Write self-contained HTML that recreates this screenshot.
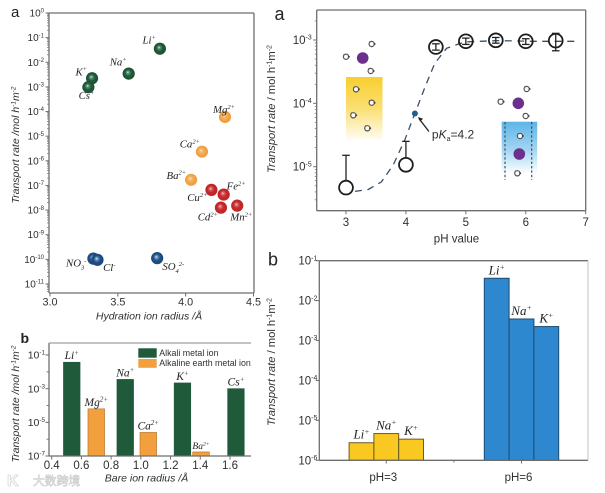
<!DOCTYPE html>
<html lang="en">
<head>
<meta charset="utf-8">
<title>Ion transport rate charts</title>
<style>
html,body{margin:0;padding:0;background:#fff;width:605px;height:493px;overflow:hidden}
svg{display:block;filter:blur(.3px)}
text{font-family:"Liberation Sans","Noto Sans CJK SC",sans-serif;fill:#2f2f2f}
.ion-label{font-family:"Liberation Serif",serif;font-style:italic;fill:#222}
</style>
</head>
<body>
<svg id="figure" xmlns="http://www.w3.org/2000/svg" width="605" height="493" viewBox="0 0 605 493">
<defs>
<radialGradient id="ball-green" cx=".5" cy=".5" r=".55" fx=".42" fy=".38"><stop offset="0" stop-color="#e6f3ea"/><stop offset=".18" stop-color="#5f9477"/><stop offset=".5" stop-color="#1f5a3a"/><stop offset="1" stop-color="#1d4f33"/></radialGradient>
<radialGradient id="ball-orange" cx=".5" cy=".5" r=".55" fx=".42" fy=".38"><stop offset="0" stop-color="#fff0da"/><stop offset=".22" stop-color="#f6b970"/><stop offset=".7" stop-color="#ee9f3e"/><stop offset="1" stop-color="#eaa554"/></radialGradient>
<radialGradient id="ball-red" cx=".5" cy=".5" r=".55" fx=".42" fy=".38"><stop offset="0" stop-color="#fbdede"/><stop offset=".18" stop-color="#de6a68"/><stop offset=".5" stop-color="#c9272b"/><stop offset="1" stop-color="#b92428"/></radialGradient>
<radialGradient id="ball-blue" cx=".5" cy=".5" r=".55" fx=".42" fy=".38"><stop offset="0" stop-color="#dcebf7"/><stop offset=".18" stop-color="#6f9cc4"/><stop offset=".5" stop-color="#1f4f86"/><stop offset="1" stop-color="#1d4674"/></radialGradient>
<linearGradient id="fill-yellow" x1="0" y1="0" x2="0" y2="1"><stop offset="0" stop-color="#f8cf2e"/><stop offset=".5" stop-color="#fbdf74"/><stop offset="1" stop-color="#fffdf4"/></linearGradient>
<linearGradient id="fill-blue" x1="0" y1="0" x2="0" y2="1"><stop offset="0" stop-color="#5db4e6"/><stop offset=".55" stop-color="#a5d6f2"/><stop offset="1" stop-color="#ffffff"/></linearGradient>
<g id="small-ion"><circle r="2.6" fill="#fff" stroke="#555" stroke-width="1.2"/><circle cx="2.9" cy="0" r="1" fill="#444"/><circle cx="-1.8" cy="-2.2" r=".8" fill="#666"/></g>
</defs>
<rect width="605" height="493" fill="#fff"/>

<g>
  <rect x="346" y="77" width="36.5" height="63" fill="url(#fill-yellow)"/>
  <circle cx="362.7" cy="58" r="5.8" fill="#6b2f8e"/>
  <use href="#small-ion" x="371.7" y="44"/>
  <use href="#small-ion" x="346" y="56.7"/>
  <use href="#small-ion" x="370.7" y="71"/>
  <use href="#small-ion" x="356" y="89.3"/>
  <use href="#small-ion" x="371.7" y="102.7"/>
  <use href="#small-ion" x="353.3" y="115.3"/>
  <use href="#small-ion" x="367.3" y="128.3"/>
</g>
<g>
  <rect x="501.7" y="121.7" width="35.5" height="52" fill="url(#fill-blue)"/>
  <line x1="505" y1="122" x2="505" y2="180" stroke="#33465c" stroke-width="1.1" stroke-dasharray="2.4 2"/>
  <line x1="531.7" y1="122" x2="531.7" y2="180" stroke="#33465c" stroke-width="1.1" stroke-dasharray="2.4 2"/>
  <circle cx="518.3" cy="103.3" r="5.8" fill="#6b2f8e"/>
  <circle cx="519.3" cy="154" r="5.8" fill="#6b2f8e"/>
  <use href="#small-ion" x="526.7" y="89"/>
  <use href="#small-ion" x="500.7" y="101.7"/>
  <use href="#small-ion" x="525.7" y="116"/>
  <use href="#small-ion" x="520" y="136"/>
  <use href="#small-ion" x="517.3" y="173.3"/>
</g>

<text x="11" y="17" font-size="15" style="fill:#222">a</text>
<text x="20.5" y="343" font-size="14" font-weight="bold" style="fill:#222">b</text>
<text x="274.5" y="20" font-size="18" style="fill:#222">a</text>
<text x="268" y="265.5" font-size="18" style="fill:#222">b</text>

<text x="149" y="319.5" font-size="10.5" font-style="italic" text-anchor="middle">Hydration ion radius /Å</text>
<text transform="translate(19,145) rotate(-90)" font-size="10.5" font-style="italic" text-anchor="middle">Transport rate /mol h<tspan font-size="6.5" dy="-3.5">-1</tspan><tspan dy="3.5">m</tspan><tspan font-size="6.5" dy="-3.5">-2</tspan></text>
<text x="146.5" y="481.5" font-size="10.5" font-style="italic" text-anchor="middle">Bare ion radius /Å</text>
<text transform="translate(19,404) rotate(-90)" font-size="10.5" font-style="italic" text-anchor="middle">Transport rate /mol h<tspan font-size="6.5" dy="-3.5">-1</tspan><tspan dy="3.5">m</tspan><tspan font-size="6.5" dy="-3.5">-2</tspan></text>
<text x="456.5" y="242.5" font-size="11.5" text-anchor="middle">pH value</text>
<text transform="translate(275,109) rotate(-90)" font-size="11.2" text-anchor="middle"><tspan font-style="italic">Transport rate</tspan> / mol h<tspan font-size="7" dy="-3.5">-1</tspan><tspan dy="3.5">m</tspan><tspan font-size="7" dy="-3.5">-2</tspan></text>
<text transform="translate(275,362) rotate(-90)" font-size="11.2" text-anchor="middle"><tspan font-style="italic">Transport rate</tspan> / mol h<tspan font-size="7" dy="-3.5">-1</tspan><tspan dy="3.5">m</tspan><tspan font-size="7" dy="-3.5">-2</tspan></text>

<g>
  <rect x="138.3" y="348.3" width="18.4" height="9.4" fill="#1f5a3a"/>
  <text x="159.3" y="356" font-size="8.8">Alkali metal ion</text>
  <rect x="138.3" y="359" width="18.4" height="8.8" fill="#f2a03d"/>
  <text x="159.3" y="365.8" font-size="8.8">Alkaline earth metal ion</text>
</g>

<g opacity=".85">
  <text x="7" y="486" font-size="16" font-weight="bold" style="fill:#fff;stroke:#cfcfcf;stroke-width:.8">K</text>
  <text x="33" y="485" font-size="11.8" style="fill:#fff;stroke:#c8c8c8;stroke-width:.7">大数跨境</text>
</g>
</svg>

<script>
// Scatter: hydration radius vs transport rate (log10)
const scatterLabels = ['Li^{+}','Na^{+}','K^{+}','Cs^{+}','Mg^{2+}','Ca^{2+}','Ba^{2+}','Cu^{2+}','Fe^{2+}','Cd^{2+}','Mn^{2+}','NO_{3}^{-}','Cl^{-}','SO_{4}^{2-}'];
const scatterGroups = ['alkali','alkali','alkali','alkali','earth','earth','earth','metal','metal','metal','metal','anion','anion','anion'];
const scatterRadius = [3.81,3.58,3.31,3.283,4.29,4.12,4.04,4.19,4.28,4.26,4.38,3.32,3.35,3.79];
const scatterLogRate = [-1.45,-2.46,-2.65,-3.01,-4.22,-5.63,-6.77,-7.18,-7.37,-7.9,-7.82,-9.97,-10.02,-9.95];
const scatterXTicks = [3.0,3.5,4.0,4.5];
const scatterYTicks = [0,-1,-2,-3,-4,-5,-6,-7,-8,-9,-10,-11];

// Bars: bare ion radius vs transport rate (log10)
const radiusBarLabels = ['Li^{+}','Mg^{2+}','Na^{+}','Ca^{2+}','K^{+}','Ba^{2+}','Cs^{+}'];
const radiusBarGroups = ['alkali','earth','alkali','earth','alkali','earth','alkali'];
const radiusBarRadius = [0.535,0.70,0.895,1.05,1.28,1.405,1.64];
const radiusBarLogRate = [-1.43,-4.2,-2.45,-5.6,-2.66,-6.76,-3.0];
const radiusXTicks = [0.4,0.6,0.8,1.0,1.2,1.4,1.6];
const radiusYTicks = [-1,-3,-5,-7];

// pH curve: measured points, error bars, dashed fit
const phValues = [3,4,4.5,5,5.5,6,6.5];
const phLogRate = [-5.33,-4.97,-3.11,-3.02,-3.005,-3.02,-3.01];
const phLogHigh = [-4.82,-4.6,-3.06,-2.97,-2.96,-2.98,-2.895];
const phLogLow = [-5.33,-4.97,-3.16,-3.07,-3.05,-3.07,-3.17];
const fitPh = [3.15,3.37,3.59,3.79,3.98,4.15,4.32,4.48,4.68,4.98,5.54,6.09,6.84];
const fitLogRate = [-5.39,-5.36,-5.24,-4.97,-4.58,-4.16,-3.74,-3.37,-3.13,-3.03,-3.01,-3.02,-3.02];
const pKaPh = [4.15];
const pKaLogRate = [-4.16];
const phXTicks = [3,4,5,6,7];
const phYTicks = [-3,-4,-5];

// Bars: transport rate by pH group
const phGroups = ['pH=3','pH=6'];
const phBarIons = ['Li^{+}','Na^{+}','K^{+}'];
const phBarLogRate3 = [-5.56,-5.33,-5.47];
const phBarLogRate6 = [-1.44,-2.46,-2.65];
const phBarYTicks = [-1,-2,-3,-4,-5,-6];

const NS = 'http://www.w3.org/2000/svg';
const root = document.getElementById('figure');
const AXIS = '#6e6e6e';
const BALL = {alkali:'url(#ball-green)', earth:'url(#ball-orange)', metal:'url(#ball-red)', anion:'url(#ball-blue)'};

function linear(d0, d1, r0, r1) { return v => r0 + (v - d0) * (r1 - r0) / (d1 - d0); }

function make(tag, attrs, parent) {
  const node = document.createElementNS(NS, tag);
  for (const k in attrs) node.setAttribute(k, attrs[k]);
  parent.appendChild(node);
  return node;
}

// Writes "Li^{+}" / "SO_{4}^{2-}" as real text with raised and lowered tspans.
function richText(node, str, size) {
  const parts = str.match(/\^\{[^}]*\}|_\{[^}]*\}|[^\^_]+/g);
  let shift = 0;
  parts.forEach(p => {
    const span = make('tspan', {}, node);
    let want = 0;
    if (p[0] === '^') { want = -size * 0.38; span.setAttribute('font-size', size * 0.6); span.textContent = p.slice(2, -1); }
    else if (p[0] === '_') { want = size * 0.25; span.setAttribute('font-size', size * 0.6); span.textContent = p.slice(2, -1); }
    else { span.textContent = p; }
    span.setAttribute('dy', want - shift);
    shift = want;
  });
}

function spine(parent, x1, y1, x2, y2, name, color) {
  const s = make('line', {x1, y1, x2, y2, stroke: color || AXIS, 'stroke-width': 1.3}, parent);
  
  
}

function logYAxis(parent, ticks, y, axisX, fontSize, minorMode, labelGap) {
  ticks.forEach(t => {
    const tick = make('line', {x1: axisX - 3.5, x2: axisX, y1: y(t), y2: y(t), stroke: AXIS, 'stroke-width': 1}, parent);
    
    
    const label = make('text', {x: axisX - labelGap, y: y(t) + fontSize * 0.35, 'font-size': fontSize, 'text-anchor': 'end'}, parent);
    
    
    richText(label, '10^{' + t + '}', fontSize);
  });
  if (minorMode === 'none') return;
  const hi = Math.max(...ticks), lo = Math.min(...ticks);
  if (minorMode === 'alternate') {
    for (let d = lo + 1; d < hi; d += 2) {
      const m = make('line', {x1: axisX - 2.5, x2: axisX, y1: y(d), y2: y(d), stroke: AXIS, 'stroke-width': .9}, parent);
      
      
    }
    return;
  }
  const [top, bottom] = y.range;
  for (let d = lo - 2; d <= hi + 1; d++) {
    for (let k = 2; k < 10; k++) {
      const py = y(d + Math.log10(k));
      if (py < top || py > bottom) continue;
      const m = make('line', {x1: axisX - 2, x2: axisX, y1: py, y2: py, stroke: AXIS, 'stroke-width': .7}, parent);
      
      
    }
  }
}

function xAxis(parent, ticks, x, axisY, baseline, fontSize, digits) {
  ticks.forEach(t => {
    const tick = make('line', {x1: x(t), x2: x(t), y1: axisY, y2: axisY + 3.5, stroke: AXIS, 'stroke-width': 1}, parent);
    
    
    const label = make('text', {x: x(t), y: baseline, 'font-size': fontSize, 'text-anchor': 'middle'}, parent);
    
    
    label.textContent = t.toFixed(digits);
  });
}

function ionLabel(parent, str, px, py, size, anchor) {
  const label = make('text', {x: px, y: py, 'font-size': size, 'text-anchor': anchor, class: 'ion-label'}, parent);
  
  
  richText(label, str, size);
}

/* ---------- scatter, top left ---------- */
function drawScatter() {
  const g = make('g', {}, root);
  
  
  const x = linear(3, 4.5, 50, 253.5);
  const y = linear(0, -11, 13, 284);
  y.range = [13, 293];
  spine(g, 49, 13, 49, 293, 'y-axis-line');
  spine(g, 49, 293, 254, 293, 'x-axis-line');
  spine(g, 49, 13, 254, 13, 'top-border');
  spine(g, 254, 13, 254, 293, 'right-border');
  logYAxis(g, scatterYTicks, y, 49, 10, 'full', 5);
  xAxis(g, scatterXTicks, x, 293, 305.7, 10.8, 1);
  const offsets = [[-4,-5],[-2,-8],[-5,-3],[6,12],[10,-4],[-2,-4],[-5,-1],[-4,11],[22,-5],[-3,13],[15,15],[-7,8],[18,11],[27,12]];
  scatterRadius.forEach((r, i) => {
    const dot = make('circle', {cx: x(r), cy: y(scatterLogRate[i]), r: 6.1, fill: BALL[scatterGroups[i]]}, g);
    
    
    ionLabel(g, scatterLabels[i], x(r) + offsets[i][0], y(scatterLogRate[i]) + offsets[i][1], 10.8, 'end');
  });
}

/* ---------- bars, bottom left ---------- */
function drawRadiusBars() {
  const g = make('g', {}, root);
  
  
  const x = linear(0.4, 1.6, 51.7, 230);
  const y = linear(-1, -7, 355, 456);
  y.range = [343, 456];
  radiusBarRadius.forEach((r, i) => {
    const top = y(radiusBarLogRate[i]);
    const bar = make('rect', {x: x(r) - 8.3, y: top, width: 16.6, height: 456 - top,
      fill: radiusBarGroups[i] === 'alkali' ? '#1f5a3a' : '#f2a03d',
      stroke: radiusBarGroups[i] === 'alkali' ? '#1f5a3a' : '#a9702c', 'stroke-width': .6}, g);
    
    
    ionLabel(g, radiusBarLabels[i], x(r), top - 3, radiusBarLabels[i].startsWith('Ba') ? 9.5 : 11.5, 'middle');
  });
  spine(g, 49, 343, 49, 456, 'y-axis-line');
  spine(g, 49, 456, 251, 456, 'x-axis-line');
  spine(g, 49, 343, 251, 343, 'top-border', '#a0a0a0');
  logYAxis(g, radiusYTicks, y, 49, 10.5, 'alternate', 4);
  xAxis(g, radiusXTicks, x, 456, 469, 11.5, 1);
}

/* ---------- pH curve, top right ---------- */
function drawPhCurve() {
  const g = make('g', {}, root);
  
  
  const x = linear(3, 7, 346, 585.7);
  const y = linear(-3, -5, 40, 166.7);
  y.range = [10, 210.7];
  spine(g, 316.7, 10, 316.7, 210.7, 'y-axis-line');
  spine(g, 316.7, 210.7, 585.7, 210.7, 'x-axis-line');
  spine(g, 316.7, 10, 585.7, 10, 'top-border');
  spine(g, 585.7, 10, 585.7, 210.7, 'right-border');
  logYAxis(g, phYTicks, y, 316.7, 11.5, 'full', 5);
  xAxis(g, phXTicks, x, 210.7, 226, 11.5, 0);
  const pts = fitPh.map((p, i) => x(p).toFixed(1) + ',' + y(fitLogRate[i]).toFixed(1)).join(' ');
  const fit = make('polyline', {points: pts, fill: 'none', stroke: '#3b4f66', 'stroke-width': 1.3, 'stroke-dasharray': '7 5.5', 'stroke-linejoin': 'round'}, g);
  
  
  phValues.forEach((p, i) => {
    const px = x(p);
    const err = make('line', {x1: px, x2: px, y1: y(phLogHigh[i]), y2: y(phLogLow[i]), stroke: '#222', 'stroke-width': 1.3}, g);
    
    
    const capTop = make('line', {x1: px - 3.8, x2: px + 3.8, y1: y(phLogHigh[i]), y2: y(phLogHigh[i]), stroke: '#222', 'stroke-width': 1.3}, g);
    
    
    const capLow = make('line', {x1: px - 3.8, x2: px + 3.8, y1: y(phLogLow[i]), y2: y(phLogLow[i]), stroke: '#222', 'stroke-width': 1.3}, g);
    
    
    const dot = make('circle', {cx: px, cy: y(phLogRate[i]), r: 6.9, fill: i < 2 ? '#fff' : 'none', stroke: '#1d1d1d', 'stroke-width': 1.8}, g);
    
    
  });
  pKaPh.forEach((p, i) => {
    const mark = make('circle', {cx: x(p), cy: y(pKaLogRate[i]), r: 3, fill: '#1f5e93'}, g);
    
    
    const arrow = make('line', {x1: x(p) + 14, y1: y(pKaLogRate[i]) + 18, x2: x(p) + 4, y2: y(pKaLogRate[i]) + 5, stroke: '#222', 'stroke-width': 1.3}, g);
    
    
    const ax = x(p) + 3, ay = y(pKaLogRate[i]) + 3.5;
    const head = make('path', {d: `M${ax} ${ay}l5.2 1.8l-3 2.6z`, fill: '#222'}, g);
    
    
    const label = make('text', {x: x(p) + 17, y: y(pKaLogRate[i]) + 25, 'font-size': 12}, g);
    
    
    label.innerHTML = 'p<tspan font-style="italic">K</tspan><tspan font-size="7" dy="2.5">a</tspan><tspan dy="-2.5">=4.2</tspan>';
  });
}

/* ---------- bars, bottom right ---------- */
function drawPhBars() {
  const g = make('g', {}, root);
  
  
  const y = linear(-1, -6, 260.7, 460.3);
  y.range = [260.7, 460.3];
  const group = linear(0, 1, 386.3, 521.5);
  const barW = 24.8;
  const series = [phBarLogRate3, phBarLogRate6];
  const styles = [['#f9c921', '#6b5a20'], ['#2e88cf', '#1f4a6e']];
  series.forEach((vals, gi) => {
    vals.forEach((v, i) => {
      const left = group(gi) + (i - 1.5) * barW;
      const top = y(v);
      const bar = make('rect', {x: left, y: top, width: barW, height: 460.3 - top, fill: styles[gi][0], stroke: styles[gi][1], 'stroke-width': 1}, g);
      
      
      ionLabel(g, phBarIons[i], left + barW / 2, top - 4, 13, 'middle');
    });
    const tick = make('line', {x1: group(gi), x2: group(gi), y1: 460.3, y2: 463.5, stroke: AXIS, 'stroke-width': 1}, g);
    
    
    const label = make('text', {x: group(gi) - 3, y: 481, 'font-size': 11.5, 'text-anchor': 'middle'}, g);
    
    
    label.textContent = phGroups[gi];
  });
  const mid = make('line', {x1: group(0.5), x2: group(0.5), y1: 460.3, y2: 462.5, stroke: AXIS, 'stroke-width': 1}, g);
  
  
  spine(g, 319.3, 260.7, 319.3, 460.3, 'y-axis-line');
  spine(g, 319.3, 460.3, 588, 460.3, 'x-axis-line');
  spine(g, 319.3, 260.7, 588, 260.7, 'top-border');
  spine(g, 588, 260.7, 588, 460.3, 'right-border', '#d0d0d0');
  logYAxis(g, phBarYTicks, y, 319.3, 11.5, 'none', 2);
}

drawScatter();
drawRadiusBars();
drawPhCurve();
drawPhBars();
</script>
</body>
</html>
